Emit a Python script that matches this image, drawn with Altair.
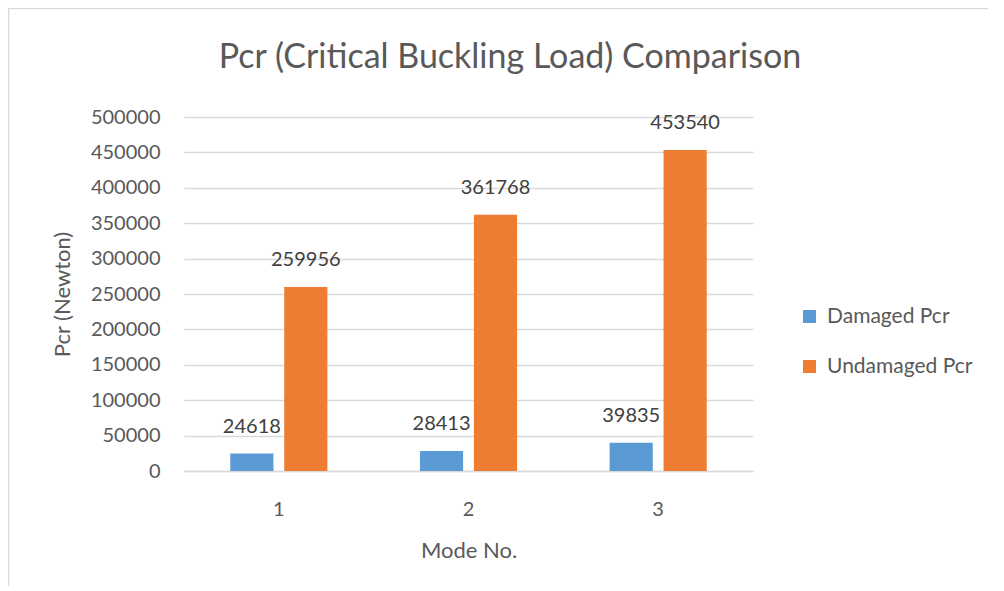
import altair as alt
import pandas as pd

modes = ["1", "2", "3"]
damaged = [24618, 28413, 39835]
undamaged = [259956, 361768, 453540]
series = ["Damaged Pcr", "Undamaged Pcr"]
colors = ["#5B9BD5", "#ED7D31"]
y_ticks = [0, 50000, 100000, 150000, 200000, 250000, 300000, 350000, 400000, 450000, 500000]
title_text = "Pcr (Critical Buckling Load) Comparison"

rows = []
for i, m in enumerate(modes):
    rows.append({"mode": m, "series": series[0], "value": damaged[i]})
    rows.append({"mode": m, "series": series[1], "value": undamaged[i]})
df = pd.DataFrame(rows)

FONT = "Lato"

base = alt.Chart(df).encode(
    x=alt.X("mode:N", title="Mode No.",
            scale=alt.Scale(paddingInner=0.488, paddingOuter=0.244),
            axis=alt.Axis(labelAngle=0, labelFontSize=20, labelColor="#595959",
                          labelPadding=28, titleFontSize=22, titleColor="#595959",
                          titleFontWeight="normal", titlePadding=21, ticks=False,
                          domainColor="#d9d9d9", domainWidth=1.5, labelFont=FONT, titleFont=FONT)),
    xOffset=alt.XOffset("series:N", scale=alt.Scale(paddingInner=0.2, paddingOuter=0)),
    y=alt.Y("value:Q", title="Pcr (Newton)",
            scale=alt.Scale(domain=[0, 500000], nice=False),
            axis=alt.Axis(values=y_ticks, format="d",
                          labelOverlap=False,
                          labelFontSize=20, labelColor="#595959", labelPadding=24,
                          titleFontSize=22, titleColor="#595959", titleFontWeight="normal",
                          titlePadding=16, ticks=False, domain=False,
                          gridColor="#d9d9d9", gridWidth=1.5, labelFont=FONT, titleFont=FONT)),
)

bars = base.mark_bar().encode(
    color=alt.Color("series:N", scale=alt.Scale(domain=series, range=colors),
                    legend=alt.Legend(title=None, orient="none", legendX=615, legendY=189,
                                      symbolType="square", symbolSize=169, symbolStrokeWidth=0,
                                      labelFontSize=21, labelColor="#595959", labelFont=FONT,
                                      labelOffset=7, rowPadding=28)),
)

labels = base.mark_text(baseline="bottom", dy=-17, fontSize=20, color="#404040", font=FONT).encode(
    text=alt.Text("value:Q", format="d"),
)

one = pd.DataFrame({"k": [0]})
title = alt.Chart(one).mark_text(fontSize=34, font=FONT, color="#595959", baseline="middle").encode(
    x=alt.value(326), y=alt.value(-59), text=alt.value(title_text))

border_left = alt.Chart(one).mark_rule(color="#d9d9d9", strokeWidth=1.5).encode(
    x=alt.value(-175.5), y=alt.value(-109), y2=alt.value(480))
border_top = alt.Chart(one).mark_rule(color="#d9d9d9", strokeWidth=1.5).encode(
    x=alt.value(-176), x2=alt.value(830), y=alt.value(-108.5))

chart = alt.layer(bars, labels, title, border_left, border_top).properties(
    width=569, height=354,
    autosize=alt.AutoSizeParams(type="none"),
    padding={"left": 176, "top": 109, "right": 235, "bottom": 115},
).configure_view(stroke=None)

chart.save("out.html", embed_options={"renderer": "svg", "actions": False})
